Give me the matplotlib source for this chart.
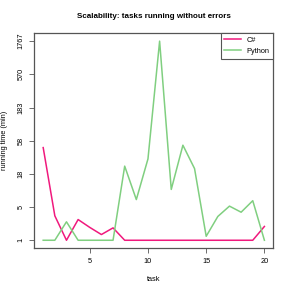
import numpy as np
import matplotlib
matplotlib.use('Agg')
import matplotlib.pyplot as plt

plt.rcParams['font.family'] = ['Liberation Sans', 'DejaVu Sans']

tasks = list(range(1, 21))
csharp = [46, 3.6, 1, 3.05, 2.1, 1.43, 2.05, 1, 1, 1, 1, 1, 1, 1, 1, 1, 1, 1, 1, 2.2]
python = [1, 1, 2.75, 1, 1, 1, 1, 24, 7, 31, 1767, 10.3, 50, 22, 1.29, 3.5, 5.4, 4.2, 6.7, 1]
ytick_labels = ['1', '5', '18', '58', '183', '570', '1767']
xticks = [5, 10, 15, 20]

fig = plt.figure(figsize=(2.91, 2.91), dpi=100)
ax = fig.add_axes([0.118, 0.147, 0.821, 0.739])

cs = np.log1p(csharp)
py = np.log1p(python)
ax.plot(tasks, cs, color='#F0197D', lw=1.1, label='C#')
ax.plot(tasks, py, color='#80CF80', lw=1.1, label='Python')

lo = min(cs.min(), py.min())
hi = max(cs.max(), py.max())
pad = (hi - lo) * 0.04
ax.set_ylim(lo - pad, hi + pad)
ax.set_yticks(np.linspace(lo, hi, len(ytick_labels)))
ax.set_yticklabels(ytick_labels, rotation=90, va='center')
ax.set_xlim(1 - 19 * 0.04, 20 + 19 * 0.04)
ax.set_xticks(xticks)

for s in ax.spines.values():
    s.set_color('#555555')
    s.set_linewidth(0.9)
ax.tick_params(labelsize=5.3, length=3.5, width=0.6, color='#555555', pad=3.5)

ax.set_xlabel('task', fontsize=5.3, labelpad=8)
ax.set_ylabel('running time (min)', fontsize=5.3, labelpad=7)
ax.set_title('Scalability: tasks running without errors', fontsize=5.8, fontweight='bold', pad=11)

leg = ax.legend(loc='upper right', fontsize=5.3, fancybox=False, framealpha=1,
                borderaxespad=0, handlelength=2.2, borderpad=0.5)
leg.get_frame().set_edgecolor('#555555')
leg.get_frame().set_linewidth(0.8)

fig.savefig('out.png', dpi=100)
